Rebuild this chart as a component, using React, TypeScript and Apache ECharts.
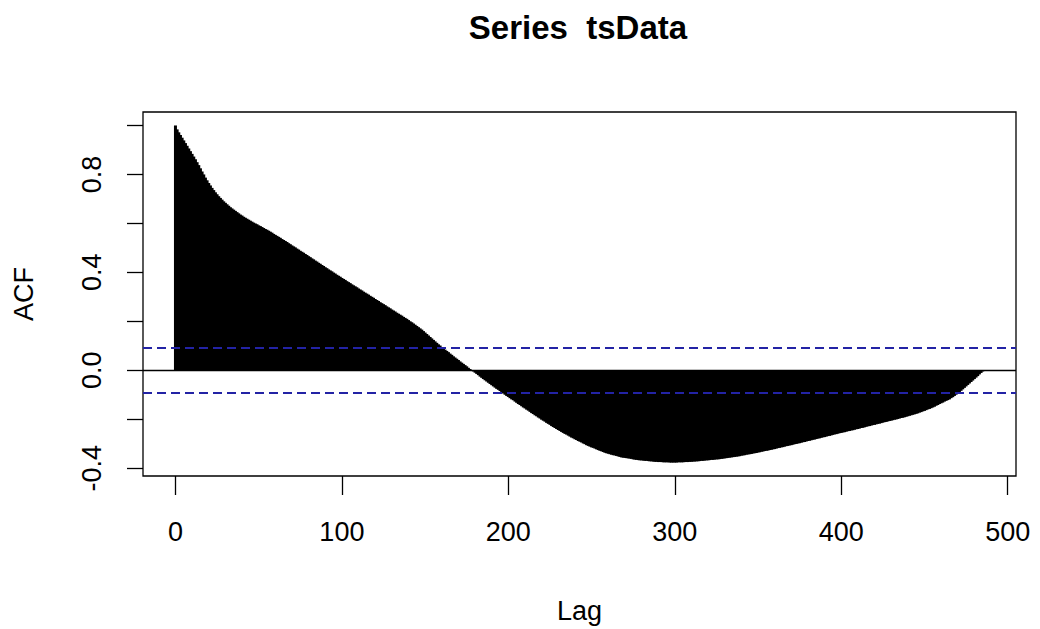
import { useEffect, useRef } from "react";
import * as echarts from "echarts";

// Sample autocorrelation of tsData, one value per lag (lag = index, 0..485)
const acfValues: number[] = [
  1.000, 0.984, 0.972, 0.961, 0.950, 0.939, 0.928, 0.917, 0.906, 0.895,
  0.884, 0.873, 0.862, 0.850, 0.838, 0.825, 0.812, 0.800, 0.787, 0.776,
  0.765, 0.755, 0.745, 0.736, 0.727, 0.719, 0.711, 0.704, 0.697, 0.690,
  0.684, 0.678, 0.672, 0.666, 0.661, 0.656, 0.651, 0.646, 0.641, 0.636,
  0.632, 0.627, 0.623, 0.619, 0.615, 0.611, 0.607, 0.603, 0.600, 0.596,
  0.592, 0.589, 0.585, 0.581, 0.577, 0.574, 0.570, 0.566, 0.562, 0.557,
  0.553, 0.549, 0.545, 0.541, 0.536, 0.532, 0.528, 0.524, 0.519, 0.515,
  0.510, 0.506, 0.502, 0.497, 0.493, 0.488, 0.484, 0.480, 0.475, 0.471,
  0.466, 0.462, 0.457, 0.453, 0.448, 0.444, 0.439, 0.435, 0.430, 0.426,
  0.421, 0.417, 0.412, 0.408, 0.404, 0.399, 0.395, 0.390, 0.386, 0.382,
  0.377, 0.373, 0.369, 0.364, 0.360, 0.356, 0.351, 0.347, 0.343, 0.339,
  0.334, 0.330, 0.326, 0.321, 0.317, 0.313, 0.309, 0.304, 0.300, 0.296,
  0.291, 0.287, 0.283, 0.278, 0.274, 0.270, 0.266, 0.261, 0.257, 0.253,
  0.248, 0.244, 0.240, 0.235, 0.231, 0.227, 0.223, 0.218, 0.214, 0.210,
  0.205, 0.200, 0.196, 0.191, 0.186, 0.181, 0.176, 0.171, 0.166, 0.160,
  0.154, 0.148, 0.142, 0.136, 0.130, 0.124, 0.118, 0.112, 0.106, 0.101,
  0.095, 0.090, 0.084, 0.079, 0.074, 0.068, 0.063, 0.057, 0.052, 0.047,
  0.042, 0.036, 0.031, 0.026, 0.021, 0.016, 0.010, 0.005, 0.000, -0.005,
  -0.010, -0.015, -0.020, -0.026, -0.031, -0.036, -0.041, -0.046, -0.051, -0.056,
  -0.061, -0.066, -0.071, -0.076, -0.080, -0.085, -0.090, -0.095, -0.100, -0.105,
  -0.109, -0.114, -0.119, -0.123, -0.128, -0.133, -0.138, -0.142, -0.147, -0.152,
  -0.156, -0.161, -0.165, -0.170, -0.175, -0.179, -0.184, -0.188, -0.193, -0.197,
  -0.202, -0.206, -0.210, -0.215, -0.219, -0.223, -0.228, -0.232, -0.236, -0.240,
  -0.244, -0.248, -0.252, -0.256, -0.260, -0.263, -0.267, -0.271, -0.275, -0.278,
  -0.282, -0.285, -0.289, -0.292, -0.295, -0.299, -0.302, -0.306, -0.309, -0.312,
  -0.315, -0.317, -0.320, -0.323, -0.326, -0.329, -0.331, -0.334, -0.337, -0.339,
  -0.341, -0.343, -0.345, -0.347, -0.348, -0.350, -0.352, -0.354, -0.356, -0.357,
  -0.358, -0.359, -0.360, -0.361, -0.362, -0.364, -0.365, -0.366, -0.367, -0.368,
  -0.368, -0.369, -0.370, -0.370, -0.371, -0.372, -0.372, -0.373, -0.374, -0.374,
  -0.375, -0.375, -0.375, -0.376, -0.376, -0.376, -0.376, -0.377, -0.377, -0.377,
  -0.377, -0.377, -0.376, -0.376, -0.376, -0.376, -0.375, -0.375, -0.375, -0.374,
  -0.374, -0.373, -0.373, -0.372, -0.372, -0.371, -0.370, -0.370, -0.369, -0.368,
  -0.368, -0.367, -0.366, -0.366, -0.365, -0.364, -0.364, -0.363, -0.362, -0.361,
  -0.360, -0.359, -0.358, -0.357, -0.356, -0.355, -0.354, -0.353, -0.352, -0.351,
  -0.349, -0.348, -0.347, -0.345, -0.344, -0.343, -0.342, -0.340, -0.339, -0.338,
  -0.336, -0.335, -0.333, -0.332, -0.330, -0.329, -0.328, -0.326, -0.325, -0.323,
  -0.322, -0.320, -0.318, -0.317, -0.315, -0.314, -0.312, -0.310, -0.309, -0.307,
  -0.306, -0.304, -0.302, -0.301, -0.299, -0.298, -0.296, -0.294, -0.293, -0.291,
  -0.289, -0.288, -0.286, -0.284, -0.283, -0.281, -0.279, -0.278, -0.276, -0.274,
  -0.273, -0.271, -0.269, -0.268, -0.266, -0.264, -0.262, -0.261, -0.259, -0.257,
  -0.256, -0.254, -0.253, -0.251, -0.249, -0.248, -0.246, -0.245, -0.243, -0.241,
  -0.240, -0.238, -0.236, -0.235, -0.233, -0.231, -0.229, -0.228, -0.226, -0.224,
  -0.223, -0.221, -0.219, -0.218, -0.216, -0.214, -0.212, -0.211, -0.209, -0.207,
  -0.206, -0.204, -0.202, -0.201, -0.199, -0.197, -0.195, -0.194, -0.192, -0.190,
  -0.188, -0.186, -0.184, -0.182, -0.180, -0.178, -0.176, -0.173, -0.171, -0.168,
  -0.166, -0.163, -0.160, -0.158, -0.155, -0.152, -0.149, -0.145, -0.142, -0.138,
  -0.135, -0.132, -0.128, -0.125, -0.122, -0.119, -0.114, -0.110, -0.105, -0.100,
  -0.095, -0.089, -0.084, -0.078, -0.072, -0.066, -0.060, -0.054, -0.048, -0.042,
  -0.036, -0.030, -0.024, -0.017, -0.011, -0.005,
];

// Approximate 95% white-noise bounds
const ciLevels: number[] = [0.088, -0.088];

const xTickValues: number[] = [0, 100, 200, 300, 400, 500];
const yTickValues: number[] = [-0.4, -0.2, 0, 0.2, 0.4, 0.6, 0.8, 1.0];
const yLabelValues: number[] = [-0.4, 0, 0.4, 0.8];

const titleText = "Series  tsData";
const xAxisTitle = "Lag";
const yAxisTitle = "ACF";

const FONT = "'Liberation Sans', Arial, Helvetica, sans-serif";

export default function App() {
  const ref = useRef<HTMLDivElement>(null);

  useEffect(() => {
    if (!ref.current) return;
    const chart = echarts.init(ref.current, null, { renderer: "svg" });

    const barData = acfValues.map((v, lag) => [lag, v]);

    chart.setOption({
      animation: false,
      backgroundColor: "#ffffff",
      textStyle: { fontFamily: FONT, color: "#000" },
      graphic: [
        {
          type: "text",
          x: 578,
          y: 27,
          style: {
            text: titleText,
            fontFamily: FONT,
            fontSize: 33,
            fontWeight: "bold",
            fill: "#000",
            align: "center",
            verticalAlign: "middle",
          },
        },
      ],
      grid: {
        left: 143,
        top: 112,
        width: 873,
        height: 364,
        show: true,
        borderColor: "#000",
        borderWidth: 1.3,
        backgroundColor: "transparent",
      },
      xAxis: {
        type: "value",
        min: -19.5,
        max: 505,
        axisLine: { show: false, onZero: false },
        axisTick: {
          show: true,
          length: 19,
          customValues: xTickValues,
          lineStyle: { color: "#000", width: 1.3 },
        },
        axisLabel: {
          customValues: xTickValues,
          fontSize: 27,
          color: "#000",
          margin: 42,
          fontFamily: FONT,
        },
        splitLine: { show: false },
        name: xAxisTitle,
        nameLocation: "middle",
        nameGap: 121,
        nameTextStyle: { fontSize: 27, color: "#000", fontFamily: FONT },
      },
      yAxis: {
        type: "value",
        min: -0.432,
        max: 1.055,
        axisLine: { show: false, onZero: false },
        axisTick: {
          show: true,
          length: 16,
          customValues: yTickValues,
          lineStyle: { color: "#000", width: 1.3 },
        },
        axisLabel: {
          customValues: yLabelValues,
          rotate: 90,
          fontSize: 27,
          color: "#000",
          margin: 38,
          fontFamily: FONT,
          formatter: (v: number) => v.toFixed(1),
        },
        splitLine: { show: false },
        name: yAxisTitle,
        nameLocation: "middle",
        nameRotate: 90,
        nameGap: 106,
        nameTextStyle: { fontSize: 27, color: "#000", fontFamily: FONT },
      },
      series: [
        {
          type: "bar",
          data: barData,
          barWidth: 3,
          itemStyle: { color: "#000" },
          silent: true,
          markLine: {
            silent: true,
            symbol: ["none", "none"],
            label: { show: false },
            data: [
              { yAxis: 0, lineStyle: { color: "#000", width: 1.3, type: "solid" } },
              ...ciLevels.map((v) => ({
                yAxis: v,
                lineStyle: { color: "#2323a5", width: 2, type: [9, 5] },
              })),
            ],
          },
        },
      ],
    });

    return () => chart.dispose();
  }, []);

  return (
    <div
      ref={ref}
      style={{ position: "fixed", left: 0, top: 0, width: 1040, height: 629, background: "#fff" }}
    />
  );
}
